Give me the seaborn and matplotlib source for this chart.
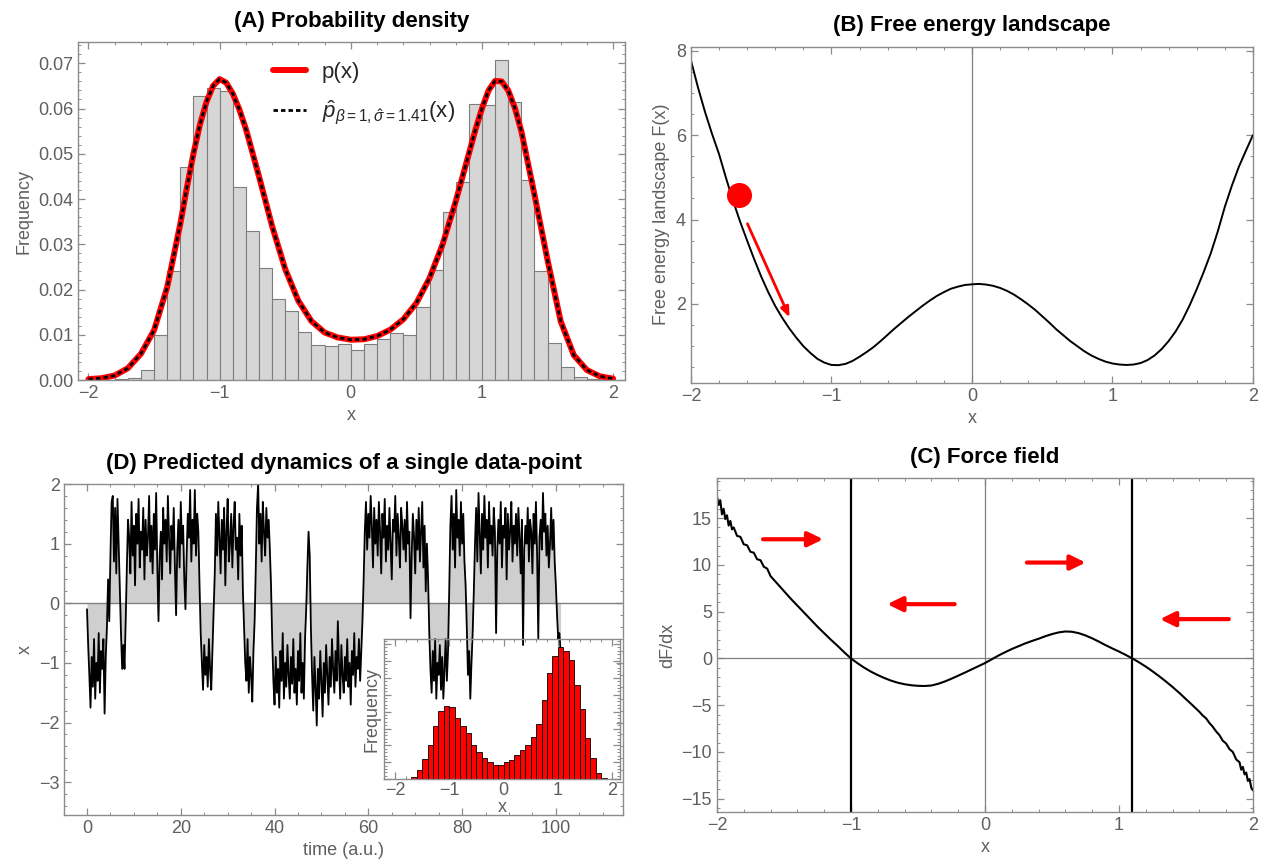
import numpy as np
import pandas as pd
import seaborn as sns
import matplotlib.pyplot as plt
from matplotlib.ticker import MultipleLocator, FormatStrFormatter

# ---- (A) histogram of samples, 0.1 wide bins from -2 to 2
hist_a_start = -2.0
hist_a_freq = [0, 0, 0.0002, 0.0005, 0.0022, 0.0099, 0.0240, 0.0471, 0.0628, 0.0646,
               0.0639, 0.0426, 0.0329, 0.0248, 0.0178, 0.0152, 0.0105, 0.0077, 0.0075, 0.0079,
               0.0066, 0.0079, 0.0090, 0.0103, 0.0100, 0.0161, 0.0244, 0.0372, 0.0438, 0.0609,
               0.0608, 0.0707, 0.0615, 0.0443, 0.0240, 0.0081, 0.0029, 0.0007, 0.0002, 0]

# p(x) and the fitted p-hat (they coincide)
p_x = [-2.0, -1.9, -1.8, -1.7, -1.6, -1.5, -1.4, -1.3, -1.25, -1.2, -1.15, -1.1, -1.05, -1.0,
       -0.95, -0.9, -0.85, -0.8, -0.7, -0.6, -0.5, -0.4, -0.3, -0.2, -0.1, 0.0, 0.1, 0.2, 0.3,
       0.4, 0.5, 0.6, 0.7, 0.8, 0.9, 0.95, 1.0, 1.05, 1.1, 1.15, 1.2, 1.25, 1.3, 1.4, 1.5,
       1.6, 1.7, 1.8, 1.9, 2.0]
p_val = [0.0002, 0.0004, 0.0010, 0.0026, 0.0058, 0.0110, 0.0205, 0.0345, 0.0425, 0.0500,
         0.0565, 0.0615, 0.0650, 0.0665, 0.0657, 0.0633, 0.0598, 0.0555, 0.0450, 0.0340,
         0.0245, 0.0175, 0.0130, 0.0105, 0.0094, 0.0089, 0.0090, 0.0097, 0.0111, 0.0134,
         0.0170, 0.0225, 0.0300, 0.0395, 0.0500, 0.0553, 0.0600, 0.0640, 0.0661, 0.0660,
         0.0640, 0.0602, 0.0550, 0.0410, 0.0265, 0.0130, 0.0055, 0.0022, 0.0008, 0.0003]
p_hat = p_val

# ---- (B) free energy landscape
f_x = [-2.0, -1.95, -1.9, -1.85, -1.8, -1.75, -1.7, -1.65, -1.6, -1.55, -1.5, -1.45, -1.4,
       -1.35, -1.3, -1.25, -1.2, -1.15, -1.1, -1.05, -1.0, -0.95, -0.9, -0.85, -0.8, -0.75,
       -0.7, -0.65, -0.6, -0.55, -0.5, -0.45, -0.4, -0.35, -0.3, -0.25, -0.2, -0.15, -0.1,
       -0.05, 0.0, 0.05, 0.1, 0.15, 0.2, 0.25, 0.3, 0.35, 0.4, 0.45, 0.5, 0.55, 0.6, 0.65,
       0.7, 0.75, 0.8, 0.85, 0.9, 0.95, 1.0, 1.05, 1.1, 1.15, 1.2, 1.25, 1.3, 1.35, 1.4,
       1.45, 1.5, 1.55, 1.6, 1.65, 1.7, 1.75, 1.8, 1.85, 1.9, 1.95, 2.0]
f_val = [7.77, 7.13, 6.55, 6.03, 5.55, 4.98, 4.44, 3.95, 3.50, 3.06, 2.65, 2.28, 1.95,
         1.67, 1.42, 1.20, 1.00, 0.84, 0.70, 0.61, 0.555, 0.55, 0.58, 0.65, 0.75, 0.86,
         0.98, 1.12, 1.27, 1.42, 1.56, 1.70, 1.83, 1.96, 2.08, 2.19, 2.28, 2.36, 2.41,
         2.45, 2.465, 2.475, 2.46, 2.43, 2.38, 2.31, 2.22, 2.11, 1.99, 1.86, 1.71, 1.56, 1.40,
         1.26, 1.12, 1.00, 0.88, 0.78, 0.70, 0.635, 0.59, 0.565, 0.555, 0.565, 0.60, 0.67,
         0.78, 0.93, 1.12, 1.35, 1.63, 1.97, 2.35, 2.76, 3.20, 3.72, 4.30, 4.80, 5.25, 5.63, 6.00]
ball_xy = (-1.66, 4.58)
ball_arrow = ((-1.606, 3.96), (-1.29, 1.62))

# ---- (C) force field dF/dx
c_x = [-2.0, -1.9875, -1.975, -1.9625, -1.95, -1.9375, -1.925, -1.9125, -1.9, -1.8875,
       -1.875, -1.85, -1.825, -1.8, -1.775, -1.75, -1.725, -1.7, -1.675, -1.65, -1.625, -1.6,
       -1.55, -1.5, -1.45, -1.4, -1.35, -1.3, -1.25, -1.2, -1.15, -1.1, -1.05, -1.0, -0.95,
       -0.9, -0.85, -0.8, -0.75, -0.7, -0.65, -0.6, -0.55, -0.5, -0.45, -0.4, -0.35, -0.3,
       -0.25, -0.2, -0.15, -0.1, -0.05, 0.0, 0.05, 0.1, 0.15, 0.2, 0.25, 0.3, 0.35, 0.4,
       0.45, 0.5, 0.55, 0.6, 0.65, 0.7, 0.75, 0.8, 0.85, 0.9, 0.95, 1.0, 1.05, 1.1, 1.15,
       1.2, 1.25, 1.3, 1.35, 1.4, 1.45, 1.5, 1.55, 1.6, 1.625, 1.65, 1.675, 1.7, 1.725,
       1.75, 1.775, 1.8, 1.825, 1.85, 1.875, 1.9, 1.9125, 1.925, 1.9375, 1.95, 1.9625,
       1.975, 1.9875, 2.0]
c_val = [17.3, 16.4, 16.9, 15.4, 16.0, 14.9, 15.3, 14.2, 14.7, 13.8,
         14.0, 13.1, 13.0, 12.2, 12.1, 11.4, 11.3, 10.6, 10.5, 9.8, 9.6, 8.8,
         8.0, 7.2, 6.4, 5.65, 4.9, 4.15, 3.4, 2.7, 2.0, 1.35, 0.65, 0.0, -0.52,
         -1.0, -1.42, -1.78, -2.1, -2.38, -2.6, -2.76, -2.87, -2.93, -2.95, -2.9, -2.72, -2.47,
         -2.17, -1.85, -1.52, -1.18, -0.84, -0.5, -0.1, 0.3, 0.66, 1.0, 1.3, 1.6, 1.86, 2.1,
         2.37, 2.6, 2.78, 2.88, 2.85, 2.7, 2.46, 2.15, 1.8, 1.42, 1.07, 0.74, 0.38, 0.0, -0.42,
         -0.87, -1.37, -1.9, -2.46, -3.05, -3.68, -4.35, -5.02, -5.7, -6.1, -6.4, -6.9, -7.3, -7.8,
         -8.2, -8.8, -9.1, -9.7, -10.0, -10.8, -11.1, -11.9, -11.6, -12.4, -12.2, -13.1,
         -12.9, -13.8, -14.1]
c_minima = [-1.0, 1.1]
c_arrows = [((-1.656, 12.74), (-1.207, 12.74)),
            ((-0.226, 5.8), (-0.729, 5.8)),
            ((0.313, 10.25), (0.752, 10.25)),
            ((1.82, 4.2), (1.306, 4.2))]

# ---- (D) trajectory, one value every 0.25 time units
dt = 0.25
traj = [
    -0.1, -0.7, -1.2, -1.75, -0.9, -1.4, -0.6, -1.6, -1.0, -1.3, -0.5, -1.5, -0.8, -1.1, -0.6, -1.85, -0.9, -0.4,
    0.4, -0.3, 0.8, 1.7,
    1.8, 0.7, 1.6, 0.5, 1.75, 1.0,
    0.3, -0.5, -1.1, -0.7, -1.1, -0.3,
    0.6, 1.4,
    1.1, 0.5, 1.7, 0.8, 1.3, 0.3, 1.5, 1.0, 1.75, 0.6, 1.2, 0.9, 1.6, 0.4, 1.4, 0.8, 1.1, 1.8, 0.7, 1.3,
    0.5, 1.5, 0.9, 1.85, 0.6, -0.3, 0.8, 1.2, 0.4, 1.6, 1.0, 1.4, 0.7, 1.8, 1.1, 0.5, 1.3, 0.9, 1.6, 0.6,
    -0.2, 0.9, 1.4, 0.6, 1.7, 1.0, 1.3, 0.4, -0.1, 0.8, 1.5, 1.1, 1.9, 0.7, 1.4, 1.0, 1.9, 0.8, 1.5, 1.2,
    0.3, -0.5, -1.0, -1.45, -0.7, -1.2, -0.9, -1.4, -0.6, -1.1, -1.45, -0.8, -0.2, 0.5,
    1.5, 0.8, 1.7, 1.1, 0.5, 1.4, 0.9, 1.6, 0.3, 1.2, 1.75, 0.7, 1.0, 1.5, 0.6, 1.3, 1.7, 0.9, 1.1, 0.4,
    1.5, 0.8, 1.3, 0.2,
    -0.4, -1.0, -1.3, -0.6, -1.5, -0.9, -1.2, -1.65, -0.8, -0.3,
    0.6, 1.6, 2.0, 1.0, 1.5, 0.7, 1.7, 1.2, 0.8, 1.6, 1.1, 1.4, 0.9, 0.3,
    -0.6, -1.3, -1.7, -0.9, -1.5, -1.1, -1.75, -0.8, -1.3, -0.5, -1.6, -1.0, -1.4, -0.7, -1.2, -1.6, -0.9, -1.35, -0.6, -1.5,
    -1.1, -1.7, -0.8, -1.3, -0.5, -1.5, -1.0, -1.6, -0.6, -0.1, 0.6, 1.2, 0.8, -0.4, -1.2, -1.8, -0.9, -1.4, -2.05, -1.1,
    -1.6, -0.8, -1.3, -1.9, -1.0, -1.5, -0.7, -1.2, -1.7, -0.9, -1.4, -0.6, -1.1, -1.5, -0.8, -1.3, -0.3, -1.0, -1.6, -0.7,
    -1.2, -1.5, -0.9, -1.3, -0.6, -1.4, -1.0, -1.7, -0.8, -1.2, -0.5, -1.4, -0.9, -1.1, -0.6, -1.3, -0.8, -0.3,
    0.4, 1.2, 1.7, 0.9, 1.5, 1.1, 1.8, 1.3, 0.6, 1.6, 1.0, 1.4, 0.8, 1.7, 1.2, 0.5, 1.5, 1.1, 1.75, 0.7,
    1.3, 0.9, 1.6, 1.0, 0.4, 1.4, 1.2, 1.8, 0.8, 1.5, 1.1, 0.6, 1.6, 1.3, 0.9, 1.4, 0.7, 1.7, 1.0, 1.2,
    -0.25, 0.8, 1.5, 1.1, 0.5, 1.4, 0.9, 1.6, 0.7, 1.2, 1.7, 0.6, 1.3, 0.2, 1.0, 0.4,
    -0.5, -1.1, -1.5, -0.8, -1.3, -0.6, -1.6, -1.0, -1.2, -0.7, -1.45, -0.9, -1.6, -1.1, -0.6, -1.3, -0.8, 0.2,
    1.3, 1.8, 0.9, 1.5, 0.6, 1.9, 1.1, 1.4, 0.8, 1.7, 1.0, 1.5, 0.7, 0.3,
    -0.4, -1.2, -0.8, -1.6, -1.0, -0.5, 0.2,
    1.0, 1.6, 0.7, 1.85, 1.2, 0.5, 1.5, 0.9, 1.8, 1.1, 1.4, 0.6, 1.7, 1.0, 1.3, 0.8, 1.6, 1.2, -0.5, 0.9,
    1.4, 1.0, 1.7, 0.6, 1.3, 1.1, 1.6, 0.4, 1.5, 0.9, 1.2, 1.7, 0.7, 1.3, 1.0, 1.5, 0.8, 1.6, 1.1, 0.5,
    1.4, -0.7, 0.9, 1.3, 1.0, 1.6, 0.7, 1.4, 1.2, 0.5, 1.5, 1.0, 1.7, 0.8, -0.6, 1.1, 1.4, 0.9, 1.85, 1.2,
    1.5, 0.8, 1.3, 0.6, 1.0, 1.6, 0.9, 1.4, 0.7,
    0.3, -0.2, -0.6, -0.5, -0.8,
]

# inset histogram of the trajectory, 0.1 wide bins from -1.7
hist_d_start = -1.7
hist_d_count = [6, 27, 61, 101, 158, 203, 218, 213, 180, 158, 138, 100, 80, 63, 51, 41, 41, 51,
                58, 71, 87, 101, 125, 163, 235, 313, 363, 391, 378, 353, 278, 208, 123, 63, 18, 5]

sns.set_style("ticks")
plt.rcParams['font.family'] = ['Liberation Sans', 'DejaVu Sans']
plt.rcParams['mathtext.fontset'] = 'custom'
plt.rcParams['mathtext.rm'] = 'Liberation Sans'
plt.rcParams['mathtext.it'] = 'Liberation Sans:italic'
plt.rcParams['mathtext.bf'] = 'Liberation Sans:bold'

GRAY = '#5f5f5f'
FRAME = '#8c8c8c'


def frame(ax, xmaj, xmin, ymaj, ymin, size=13):
    for s in ax.spines.values():
        s.set_color(FRAME)
        s.set_linewidth(1.0)
    ax.xaxis.set_major_locator(MultipleLocator(xmaj))
    ax.xaxis.set_minor_locator(MultipleLocator(xmin))
    ax.yaxis.set_major_locator(MultipleLocator(ymaj))
    ax.yaxis.set_minor_locator(MultipleLocator(ymin))
    ax.tick_params(which='both', direction='in', top=True, right=True,
                   color=FRAME, labelcolor=GRAY, labelsize=size)
    ax.tick_params(which='major', length=5, width=0.9)
    ax.tick_params(which='minor', length=2.5, width=0.7)


def title(ax, text):
    ax.set_title(text, fontsize=16, fontweight='bold', color='black', pad=11)


def weighted_hist(ax, start, heights, **kw):
    # one sample per bin centre, weighted by the bar height
    n = len(heights)
    df = pd.DataFrame({'x': start + 0.05 + 0.1 * np.arange(n), 'w': heights})
    sns.histplot(data=df, x='x', weights='w', binwidth=0.1,
                 binrange=(start, start + 0.1 * n), alpha=1, ax=ax, **kw)


fig = plt.figure(figsize=(12.62, 8.66), dpi=100)

# ---------------- (A)
ax_a = fig.add_axes([0.0618, 0.5612, 0.4334, 0.3903])
weighted_hist(ax_a, hist_a_start, hist_a_freq, color='#d6d6d6',
              edgecolor='#7d7d7d', linewidth=0.8)
sns.lineplot(x=p_x, y=p_val, color='red', lw=4.3, ax=ax_a, label='p(x)',
             estimator=None, sort=False)
sns.lineplot(x=p_x, y=p_hat, color='black', lw=2.0, ax=ax_a, estimator=None, sort=False,
             linestyle=(0, (1.6, 1.1)),
             label=r'$\hat{p}_{\beta\mathrm{=1,}\hat{\sigma}\mathrm{=1.41}}\mathrm{(x)}$')
ax_a.set_xlim(-2.08, 2.09)
ax_a.set_ylim(0, 0.0747)
frame(ax_a, 1, 0.2, 0.01, 0.002)
ax_a.yaxis.set_major_formatter(FormatStrFormatter('%.2f'))
ax_a.set_xlabel('x', color=GRAY, fontsize=13)
ax_a.set_ylabel('Frequency', color=GRAY, fontsize=13)
title(ax_a, '(A) Probability density')
leg = ax_a.legend(loc='upper left', bbox_to_anchor=(0.32, 1.0), frameon=False, fontsize=16,
                  handlelength=1.5, handletextpad=0.7, labelspacing=0.7)

# ---------------- (B)
ax_b = fig.add_axes([0.5475, 0.5581, 0.4453, 0.388])
ax_b.axvline(0, color='#808080', lw=0.9)
sns.lineplot(x=f_x, y=f_val, color='black', lw=1.4, ax=ax_b, estimator=None, sort=False)
ax_b.plot([ball_xy[0]], [ball_xy[1]], 'o', color='red', markersize=17)
ax_b.annotate('', xy=ball_arrow[1], xytext=ball_arrow[0],
              arrowprops=dict(arrowstyle='-|>,head_length=0.5,head_width=0.2',
                              color='red', lw=2.0, mutation_scale=12))
ax_b.set_xlim(-2, 2)
ax_b.set_ylim(0.135, 8.095)
frame(ax_b, 1, 0.2, 2, 0.5)
ax_b.set_xlabel('x', color=GRAY, fontsize=13)
ax_b.set_ylabel('Free energy landscape F(x)', color=GRAY, fontsize=13)
title(ax_b, '(B) Free energy landscape')

# ---------------- (C)
ax_c = fig.add_axes([0.5681, 0.0627, 0.4247, 0.3848])
ax_c.axhline(0, color='#808080', lw=0.9)
ax_c.axvline(0, color='#808080', lw=0.9)
for xm in c_minima:
    ax_c.axvline(xm, color='black', lw=1.6)
sns.lineplot(x=c_x, y=c_val, color='black', lw=1.5, ax=ax_c, estimator=None, sort=False)
for start, end in c_arrows:
    ax_c.annotate('', xy=end, xytext=start,
                  arrowprops=dict(arrowstyle='-|>,head_length=0.45,head_width=0.22',
                                  color='red', lw=3.0, mutation_scale=20,
                                  shrinkA=0, shrinkB=0))
ax_c.set_xlim(-2, 2)
ax_c.set_ylim(-16.39, 19.24)
frame(ax_c, 1, 0.2, 5, 1)
ax_c.set_xlabel('x', color=GRAY, fontsize=13)
ax_c.set_ylabel('dF/dx', color=GRAY, fontsize=13)
title(ax_c, '(C) Force field')

# ---------------- (D)
ax_d = fig.add_axes([0.0511, 0.0589, 0.4425, 0.3822])
t = dt * np.arange(len(traj))
ax_d.fill_between(t, traj, 0, color='#cfcfcf', lw=0)
ax_d.axhline(0, color='#808080', lw=1.0)
sns.lineplot(x=t, y=traj, color='black', lw=1.3, ax=ax_d, estimator=None, sort=False)
ax_d.set_xlim(-4.8, 114.3)
ax_d.set_ylim(-3.55, 2.0)
frame(ax_d, 20, 5, 1, 0.2)
ax_d.set_xlabel('time (a.u.)', color=GRAY, fontsize=13)
ax_d.set_ylabel('x', color=GRAY, fontsize=13)
title(ax_d, '(D) Predicted dynamics of a single data-point')

ax_in = ax_d.inset_axes([0.5715, 0.108, 0.4238, 0.424])
ax_in.patch.set_alpha(0)
weighted_hist(ax_in, hist_d_start, hist_d_count, color='#ff0000',
              edgecolor='black', linewidth=0.6)
ax_in.set_xlim(-2.21, 2.15)
ax_in.set_ylim(0, 415)
frame(ax_in, 1, 0.2, 50, 10, size=13)
ax_in.tick_params(axis='y', which='both', labelleft=False)
ax_in.tick_params(axis='x', which='major', pad=2)
ax_in.set_xlabel('x', color=GRAY, fontsize=13, labelpad=0)
ax_in.set_ylabel('Frequency', color=GRAY, fontsize=13, labelpad=2)

fig.savefig('out.png', dpi=100)
